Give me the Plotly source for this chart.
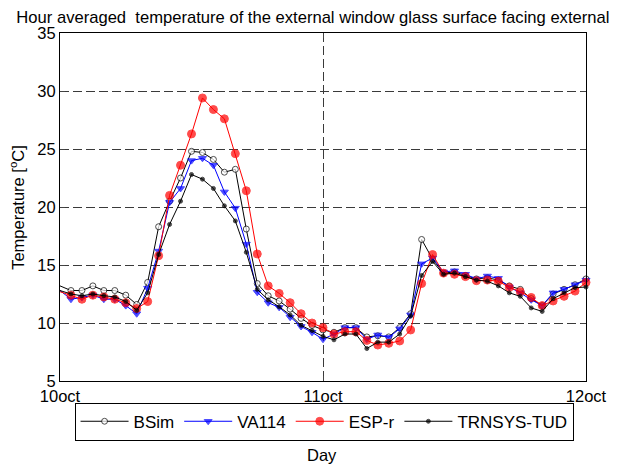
import plotly.graph_objects as go

hours = list(range(0, 49))
tick_vals = [0, 24, 48]
tick_text = ["10oct", "11oct", "12oct"]

bsim = [13.2, 12.8, 12.8, 13.2, 12.8, 12.8, 12.4, 11.6, 13.5, 18.3,
        20.5, 22.5, 24.8, 24.7, 24.1, 23.0, 23.25, 18.1, 13.4, 12.35,
        11.9, 11.2, 10.4, 9.8, 9.4, 9.2, 9.6, 9.6, 8.8, 8.9,
        8.8, 9.6, 10.8, 17.2, 15.5, 14.3, 14.4, 14.1, 13.8, 13.9,
        13.7, 13.2, 12.9, 12.1, 11.5, 12.5, 12.9, 13.3, 13.8]
va114 = [12.8, 12.05, 12.2, 12.4, 12.05, 12.05, 11.5, 10.8, 13.0, 16.2,
         20.4, 21.6, 24.0, 24.2, 23.6, 21.3, 19.9, 16.8, 12.65, 11.75,
         11.35, 10.5, 9.7, 9.2, 8.6, 9.05, 9.6, 9.6, 8.6, 8.97,
         8.77, 9.5, 10.7, 15.1, 15.6, 14.4, 14.5, 14.2, 13.8, 14.05,
         13.85, 13.1, 12.6, 12.0, 11.5, 12.6, 12.9, 13.3, 13.7]
espr = [12.7, 12.4, 12.05, 12.4, 12.25, 12.05, 11.75, 11.25, 11.85, 15.8,
        21.0, 23.6, 26.3, 29.4, 28.4, 27.6, 24.6, 21.4, 15.95, 13.2,
        12.55, 11.75, 10.8, 10.0, 9.6, 9.05, 9.25, 9.25, 8.5, 8.1,
        8.25, 8.45, 9.4, 13.4, 15.9, 14.3, 14.2, 14.0, 13.65, 13.7,
        13.6, 13.07, 12.7, 12.2, 11.5, 11.9, 12.3, 12.75, 13.5]
trnsys = [12.8, 12.5, 12.35, 12.5, 12.35, 12.25, 11.85, 11.1, 12.6, 15.9,
          18.5, 20.5, 22.8, 22.4, 21.6, 20.1, 18.8, 16.1, 12.9, 12.0,
          11.4, 10.7, 9.8, 9.35, 8.85, 8.55, 9.05, 9.05, 7.8, 8.35,
          8.35, 9.05, 10.6, 14.1, 15.3, 14.2, 14.3, 14.0, 13.7, 13.6,
          13.2, 12.6, 12.3, 11.3, 11.0, 12.1, 12.6, 13.05, 13.1]

series = [
    ("BSim", bsim, "black", "circle-open", 6),
    ("VA114", va114, "blue", "triangle-down", 7),
    ("ESP-r", espr, "red", "circle", 8),
    ("TRNSYS-TUD", trnsys, "black", "circle", 4),
]

FONT = "Liberation Sans"

fig = go.Figure()
for name, vals, color, sym, sz in series:
    sizes = [0] + [sz] * (len(vals) - 1)
    marker = dict(symbol=sym, size=sizes, color=color,
                  line=dict(color=color, width=1))
    if sym == "circle-open":
        marker = dict(symbol="circle", size=sizes, color="white",
                      line=dict(color=color, width=1))
    fig.add_trace(go.Scatter(x=hours, y=vals, name=name, mode="lines+markers",
                             line=dict(color=color, width=1), marker=marker,
                             cliponaxis=False))

grid = dict(showgrid=True, gridcolor="#3a3a3a", griddash="9px,4px", gridwidth=1)
fig.update_layout(
    width=611, height=459,
    margin=dict(l=52, r=23, t=25, b=86),
    plot_bgcolor="white", paper_bgcolor="white",
    font=dict(family=FONT, size=16, color="black"),
    title=dict(text="Hour averaged  temperature of the external window glass surface facing external",
               x=0.499, xanchor="center", y=0.981, yanchor="middle",
               font=dict(family=FONT, size=16.6)),
    xaxis=dict(range=[0, 48], tickvals=tick_vals, ticktext=tick_text,
               showline=True, linecolor="black", linewidth=1, mirror="ticks",
               ticks="inside", ticklen=5, zeroline=False,
               tickfont=dict(family=FONT, size=16.5), **grid),
    yaxis=dict(range=[5, 35], dtick=5, showline=True, linecolor="black",
               linewidth=1, mirror="ticks", ticks="inside", ticklen=5,
               zeroline=False, tickfont=dict(family=FONT, size=16.5), **grid),
    legend=dict(orientation="h", x=0.502, xanchor="center", y=-0.0624,
                yanchor="top", bordercolor="black", borderwidth=1,
                font=dict(family=FONT, size=17), itemwidth=48,
                tracegroupgap=0),
    showlegend=True,
    annotations=[
        dict(text="Day", xref="paper", yref="paper", x=0.499, y=-0.2126,
             xanchor="center", yanchor="middle", showarrow=False,
             font=dict(family=FONT, size=16.5)),
        dict(text="Temperature [<sup>o</sup>C]", xref="paper", yref="paper",
             x=-0.082, y=0.5, xanchor="center", yanchor="middle",
             textangle=-90, showarrow=False, font=dict(family=FONT, size=16.5)),
    ],
)
fig.write_html("out.html")
